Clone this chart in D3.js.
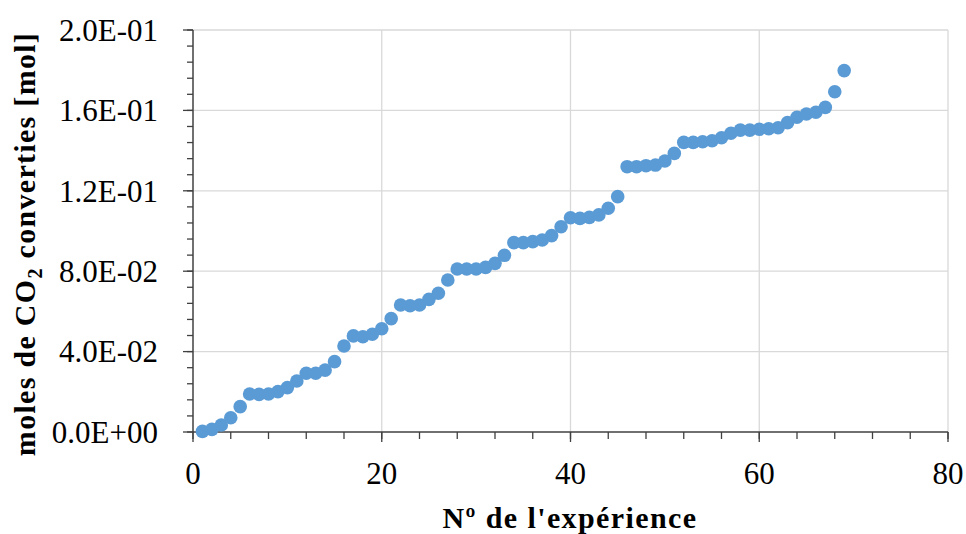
<!DOCTYPE html>
<html><head><meta charset="utf-8">
<script src="https://cdn.jsdelivr.net/npm/d3@7"></script>
<style>html,body{margin:0;padding:0;background:#fff;}</style>
</head><body>
<svg id="c" width="966" height="534"></svg>
<script>
const experiments = d3.range(1, 70);
const molesCO2 = [
0.0003,0.0013,0.0035,0.0071,0.0126,0.0189,0.0187,0.0189,0.0201,0.0221,
0.0254,0.0292,0.0292,0.0308,0.0350,0.0428,0.0478,0.0474,0.0486,0.0514,
0.0564,0.0632,0.0628,0.0632,0.0660,0.0690,0.0756,0.0811,0.0811,0.0811,
0.0819,0.0839,0.0879,0.0942,0.0942,0.0947,0.0955,0.0977,0.1021,0.1066,
0.1063,0.1068,0.1080,0.1113,0.1171,0.1320,0.1320,0.1325,0.1328,0.1348,
0.1386,0.1441,0.1441,0.1444,0.1449,0.1464,0.1486,0.1502,0.1502,0.1506,
0.1509,0.1514,0.1539,0.1566,0.1582,0.1591,0.1615,0.1693,0.1798
];
const xTicks = [0,20,40,60,80];
const yTicks = [0,0.04,0.08,0.12,0.16,0.20];
const yTickLabels = ["0.0E+00","4.0E-02","8.0E-02","1.2E-01","1.6E-01","2.0E-01"];

const svg = d3.select("#c");
const font = "'Liberation Serif','Times New Roman',serif";
const x = d3.scaleLinear().domain([0,80]).range([193,948]);
const y = d3.scaleLinear().domain([0,0.2]).range([432,30]);

// gridlines
svg.append("g").selectAll("line.h").data(yTicks.slice(1)).join("line")
  .attr("x1",x(0)).attr("x2",x(80)).attr("y1",d=>y(d)).attr("y2",d=>y(d))
  .attr("stroke","#d9d9d9").attr("stroke-width",1.3);
svg.append("g").selectAll("line.v").data(xTicks.slice(1)).join("line")
  .attr("x1",d=>x(d)).attr("x2",d=>x(d)).attr("y1",y(0)).attr("y2",y(0.2))
  .attr("stroke","#d9d9d9").attr("stroke-width",1.3);

const axisColor = "#404040";
// y axis
const yMinor = d3.range(0, 0.2001, 0.008);
const gy = svg.append("g").attr("transform",`translate(${x(0)},0)`);
gy.append("line").attr("y1",y(0)).attr("y2",y(0.2)).attr("stroke",axisColor).attr("stroke-width",1.5);
gy.selectAll("line.mi").data(yMinor).join("line").attr("class","mi")
  .attr("x1",-6).attr("x2",0).attr("y1",d=>y(d)).attr("y2",d=>y(d)).attr("stroke",axisColor).attr("stroke-width",1.3);
gy.selectAll("line.ma").data(yTicks).join("line").attr("class","ma")
  .attr("x1",-10).attr("x2",0).attr("y1",d=>y(d)).attr("y2",d=>y(d)).attr("stroke",axisColor).attr("stroke-width",1.3);
gy.selectAll("text").data(yTicks).join("text")
  .attr("x",-35).attr("y",d=>y(d)).attr("dy","0.35em").attr("text-anchor","end")
  .attr("font-family",font).attr("font-size",31).attr("fill","#000")
  .text((d,i)=>yTickLabels[i]);

// x axis
const xMinor = d3.range(0, 80.01, 4);
const gx = svg.append("g").attr("transform",`translate(0,${y(0)})`);
gx.append("line").attr("x1",x(0)).attr("x2",x(80)).attr("stroke",axisColor).attr("stroke-width",1.5);
gx.selectAll("line.mi").data(xMinor).join("line").attr("class","mi")
  .attr("x1",d=>x(d)).attr("x2",d=>x(d)).attr("y1",0).attr("y2",7).attr("stroke",axisColor).attr("stroke-width",1.3);
gx.selectAll("line.ma").data(xTicks).join("line").attr("class","ma")
  .attr("x1",d=>x(d)).attr("x2",d=>x(d)).attr("y1",0).attr("y2",10).attr("stroke",axisColor).attr("stroke-width",1.3);
gx.selectAll("text").data(xTicks).join("text")
  .attr("x",d=>x(d)).attr("y",52).attr("text-anchor","middle")
  .attr("font-family",font).attr("font-size",31).attr("fill","#000")
  .text(d=>d);

// points
svg.append("g").selectAll("circle").data(molesCO2).join("circle")
  .attr("cx",(d,i)=>x(experiments[i])).attr("cy",d=>y(d)).attr("r",6.8)
  .attr("fill","#5b9bd5");

// titles
svg.append("text").attr("x",570).attr("y",528).attr("text-anchor","middle")
  .attr("font-family",font).attr("font-weight","bold").attr("font-size",30)
  .attr("letter-spacing",1.4).attr("fill","#000")
  .text("Nº de l'expérience");
const yt = svg.append("text").attr("transform","translate(35,244) rotate(-90)").attr("text-anchor","middle")
  .attr("font-family",font).attr("font-weight","bold").attr("font-size",30)
  .attr("letter-spacing",1.3).attr("fill","#000");
yt.append("tspan").text("moles de CO");
yt.append("tspan").attr("font-size",20).attr("dy",7).text("2");
yt.append("tspan").attr("dy",-7).text(" converties [mol]");
</script>
</body></html>
